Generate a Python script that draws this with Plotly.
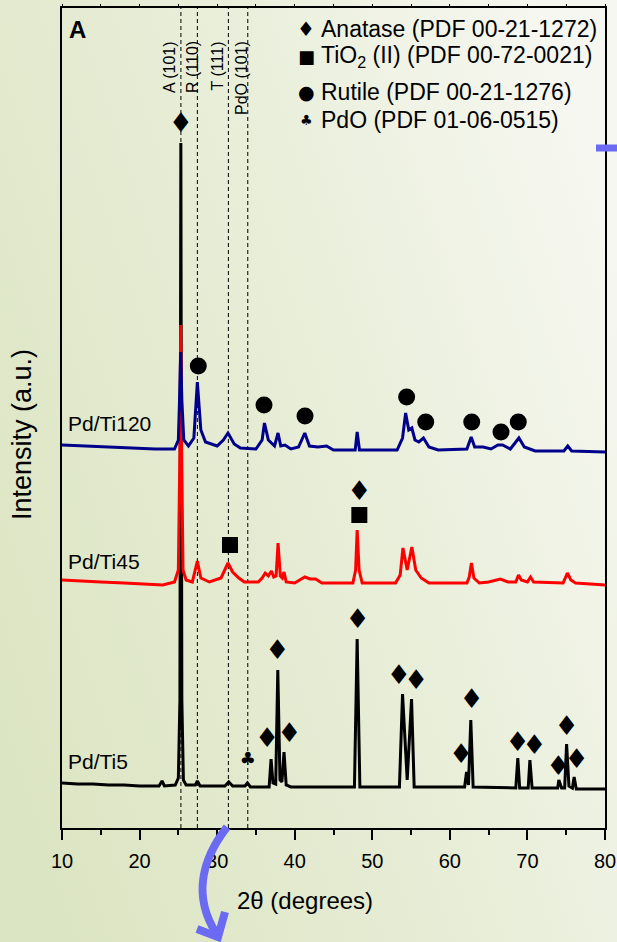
import plotly.graph_objects as go

# ---------------- data (2θ in degrees, intensity in a.u., curves already stacked) ----------------
ti5_x = [10.0, 12, 14, 16, 18, 20, 22.5, 22.9, 23.2, 24.6, 25.0, 25.2, 25.32, 25.45, 25.65, 26.0,
         27.2, 27.45, 27.8, 31.0, 31.5, 32.0, 33.6, 33.9, 34.3, 36.7, 36.95, 37.2, 37.55, 37.82,
         38.1, 38.35, 38.62, 38.9, 39.5, 47.7, 48.05, 48.4, 53.5, 53.9, 54.5, 55.06, 55.4, 56.5,
         61.9, 62.15, 62.4, 62.7, 63.0, 68.5, 68.76, 69.0, 70.1, 70.32, 70.6, 73.9, 74.05, 74.4,
         74.8, 75.05, 75.35, 75.8, 76.02, 76.3, 80]
ti5_y = [45, 44, 44, 43, 43, 42, 42, 47, 42, 43, 50, 128, 685, 128, 48, 43,
         43, 47, 42, 42, 46, 42, 42, 45, 41, 41, 69, 45, 44, 158,
         48, 46, 76, 43, 41, 41, 189, 41, 41, 134, 48, 129, 41, 41,
         41, 56, 43, 108, 41, 40, 70, 40, 40, 68, 40, 40, 48, 40,
         40, 84, 42, 40, 51, 39, 39]

ti45_x = [10, 12, 15, 18, 21, 23, 24.5, 25.0, 25.2, 25.3, 25.42, 25.6, 26.0, 26.8, 27.45, 27.9,
          29, 30.5, 31.4, 32.0, 32.8, 33.5, 35.3, 35.8, 36.2, 36.6, 37.0, 37.3, 37.6, 37.85,
          38.15, 38.4, 38.62, 38.9, 40.0, 41.3, 42.0, 42.7, 43.5, 47.5, 47.85, 48.05, 48.3, 48.7,
          53.0, 53.6, 53.95, 54.5, 55.1, 55.6, 56.3, 57.3, 62.2, 62.5, 62.78, 63.1, 63.8, 65,
          66.5, 67.5, 68.5, 68.85, 69.2, 70.0, 70.4, 70.8, 74.6, 75.15, 75.6, 76.2, 80]
ti45_y = [248, 247, 246, 245, 244, 243, 246, 258, 378, 503, 378, 258, 248, 246, 267, 250,
          246, 250, 265, 256, 250, 246, 246, 250, 255, 252, 257, 251, 252, 285,
          252, 250, 256, 246, 245, 251, 249, 249, 245, 245, 258, 298, 258, 245,
          245, 253, 280, 258, 281, 258, 250, 245, 245, 251, 265, 250, 245, 246,
          249, 246, 246, 253, 248, 246, 251, 246, 245, 255, 248, 245, 243]

ti120_x = [10, 13, 16, 19, 22, 24.5, 25.0, 25.15, 25.3, 25.45, 25.7, 26.3, 27.0, 27.45, 27.9,
           28.5, 30.0, 30.8, 31.4, 32.2, 33.0, 35.0, 35.8, 36.1, 36.6, 37.4, 37.85, 38.2, 38.75,
           39.5, 40.5, 41.3, 41.9, 43.0, 44.1, 45, 47.8, 48.05, 48.35, 53.2, 53.9, 54.3, 54.7,
           55.1, 55.5, 56.0, 56.6, 57.3, 58.5, 62.2, 62.75, 63.2, 64.3, 65.3, 66.2, 66.8, 67.8,
           68.9, 69.6, 71, 74.7, 75.2, 75.7, 80]
ti120_y = [383, 382, 381, 380, 379, 379, 388, 428, 476, 428, 388, 382, 390, 446, 398,
           386, 382, 388, 395, 384, 380, 379, 388, 405, 388, 382, 395, 382, 383,
           379, 381, 395, 382, 381, 382, 378, 378, 396, 378, 378, 390, 415, 398,
           400, 388, 386, 390, 381, 378, 379, 391, 381, 381, 379, 383, 383, 379,
           390, 381, 377, 377, 382, 377, 376]

anatase_x = [25.32, 36.43, 37.76, 39.3, 48.12, 53.44, 55.64, 61.44, 62.82, 68.75, 70.89, 73.98, 75.06, 76.35, 48.33]
anatase_y = [703, 88, 176, 93, 207, 151, 146, 72, 127, 84, 81, 60, 100, 67, 335]
tio2ii_x = [31.66, 48.33]
tio2ii_y = [283, 313]
rutile_x = [27.57, 36.04, 41.33, 54.43, 56.89, 62.82, 66.59, 68.82]
rutile_y = [462, 423, 412, 431, 406, 406, 396, 406]
pdo_x = [33.94]
pdo_y = [68]

ref_lines = [25.33, 27.45, 31.45, 33.95]
ref_labels = ["A (101)", "R (110)", "T (111)", "PdO (101)"]
ref_label_x = [23.8, 26.76, 30.1, 33.07]

sample_names = ["Pd/Ti120", "Pd/Ti45", "Pd/Ti5"]
sample_label_y = [405, 267, 67]

legend_text = ["Anatase (PDF 00-21-1272)", "TiO<sub>2</sub> (II) (PDF 00-72-0021)",
               "Rutile (PDF 00-21-1276)", "PdO (PDF 01-06-0515)"]
legend_sym = ["♦", "■", "●", "♣"]

# ---------------- layout geometry ----------------
W, H = 617, 942
ML, MR, MT, MB = 62, 12, 8, 114
PW, PH = W - ML - MR, H - MT - MB
def px(x):  # pixel -> paper x
    return (x - ML) / PW
def py(y):  # pixel -> paper y
    return (H - MB - y) / PH

FONT = "Liberation Sans, Arial, sans-serif"

fig = go.Figure()
fig.add_trace(go.Scatter(x=ti5_x, y=ti5_y, mode="lines", line=dict(color="#000000", width=3), hoverinfo="skip"))
fig.add_trace(go.Scatter(x=ti45_x, y=ti45_y, mode="lines", line=dict(color="#ff0000", width=3), hoverinfo="skip"))
fig.add_trace(go.Scatter(x=ti120_x, y=ti120_y, mode="lines", line=dict(color="#00008b", width=3), hoverinfo="skip"))

fig.add_trace(go.Scatter(x=anatase_x, y=anatase_y, mode="text", text=["♦"] * len(anatase_x),
                         textfont=dict(family="DejaVu Sans", size=27, color="black"), hoverinfo="skip"))
fig.add_trace(go.Scatter(x=tio2ii_x, y=tio2ii_y, mode="markers",
                         marker=dict(symbol="square", size=16, color="black"), hoverinfo="skip"))
fig.add_trace(go.Scatter(x=rutile_x, y=rutile_y, mode="markers",
                         marker=dict(symbol="circle", size=17, color="black"), hoverinfo="skip"))
fig.add_trace(go.Scatter(x=pdo_x, y=pdo_y, mode="text", text=["♣"] * len(pdo_x),
                         textfont=dict(family="DejaVu Sans", size=18, color="black"), hoverinfo="skip"))

shapes = []
for xv in ref_lines:
    shapes.append(dict(type="line", xref="x", yref="paper", x0=xv, x1=xv, y0=0, y1=1,
                       line=dict(color="black", width=1, dash="4px,3px"), layer="below"))

# decorative blue arrows
arrow_col = "#6a6af2"
shapes.append(dict(type="path", xref="paper", yref="paper",
                   path=f"M {px(227)},{py(827)} C {px(203)},{py(858)} {px(192)},{py(895)} {px(216)},{py(933)}",
                   line=dict(color=arrow_col, width=8)))
shapes.append(dict(type="path", xref="paper", yref="paper",
                   path=f"M {px(197)},{py(929)} L {px(218)},{py(937)} L {px(225)},{py(912)}",
                   line=dict(color=arrow_col, width=8)))
shapes.append(dict(type="line", xref="paper", yref="paper", x0=px(596), x1=px(617), y0=py(148), y1=py(148),
                   line=dict(color=arrow_col, width=7)))

annotations = []
for lab, lx in zip(ref_labels, ref_label_x):
    annotations.append(dict(x=lx, y=py(39), xref="x", yref="paper", text=lab, showarrow=False,
                            textangle=-90, xanchor="center", yanchor="top",
                            font=dict(family=FONT, size=16, color="black")))
for name, ly in zip(sample_names, sample_label_y):
    annotations.append(dict(x=10.55, y=ly, xref="x", yref="y", text=name, showarrow=False,
                            xanchor="left", yanchor="middle", font=dict(family=FONT, size=21, color="black")))

leg_y = [29, 56, 92, 120]
for t, s, ly, sz in zip(legend_text, legend_sym, leg_y, [20, 18, 19, 14]):
    annotations.append(dict(x=px(319), y=py(ly), xref="paper", yref="paper", text=t, showarrow=False,
                            xanchor="left", yanchor="middle", font=dict(family=FONT, size=23, color="black")))
    annotations.append(dict(x=px(306), y=py(ly), xref="paper", yref="paper", text=s, showarrow=False,
                            xanchor="center", yanchor="middle", font=dict(family="DejaVu Sans", size=sz, color="black")))

annotations.append(dict(x=px(67), y=py(29), xref="paper", yref="paper", text="<b>A</b>", showarrow=False,
                        xanchor="left", yanchor="middle", font=dict(family=FONT, size=24, color="black")))
annotations.append(dict(x=px(22), y=py(435), xref="paper", yref="paper", text="Intensity (a.u.)", showarrow=False,
                        textangle=-90, xanchor="center", yanchor="middle", font=dict(family=FONT, size=27, color="black")))
annotations.append(dict(x=px(305), y=py(900), xref="paper", yref="paper", text="2θ (degrees)", showarrow=False,
                        xanchor="center", yanchor="middle", font=dict(family=FONT, size=24, color="black")))

bg_svg = ("data:image/svg+xml;utf8,"
          "<svg xmlns='http://www.w3.org/2000/svg' width='617' height='942'>"
          "<defs><linearGradient id='g' x1='0' y1='0.75' x2='1' y2='0.25'>"
          "<stop offset='0' stop-color='%23dce5c3'/><stop offset='0.5' stop-color='%23e7edd6'/>"
          "<stop offset='1' stop-color='%23f6f7f0'/></linearGradient></defs>"
          "<rect width='617' height='942' fill='url(%23g)'/></svg>")

fig.update_layout(
    width=W, height=H, autosize=False, margin=dict(l=ML, r=MR, t=MT, b=MB, autoexpand=False),
    paper_bgcolor="#e8edd8", plot_bgcolor="rgba(0,0,0,0)", showlegend=False,
    shapes=shapes, annotations=annotations,
    images=[dict(source=bg_svg, xref="paper", yref="paper", x=px(0), y=py(0),
                 sizex=W / PW, sizey=H / PH, sizing="stretch", xanchor="left", yanchor="top", layer="below")],
    xaxis=dict(range=[10, 80], tick0=10, dtick=10, ticks="outside", ticklen=10, tickwidth=2,
               tickcolor="black", showline=True, linewidth=2, linecolor="black", mirror=True,
               showgrid=False, zeroline=False, tickfont=dict(family=FONT, size=20, color="black"),
               minor=dict(ticks="outside", ticklen=5, tickwidth=2, dtick=5, tickcolor="black"),
               ticklabelstandoff=4, automargin=False),
    xaxis2=dict(range=[10, 80], overlaying="x", side="top", tick0=10, dtick=5, ticks="outside",
                ticklen=3, tickwidth=1, tickcolor="black", showticklabels=False, showgrid=False,
                zeroline=False, showline=False, automargin=False),
    yaxis=dict(range=[0, PH], showticklabels=False, ticks="", showline=True, linewidth=2,
               linecolor="black", mirror=True, showgrid=False, zeroline=False, automargin=False),
)
fig.add_trace(go.Scatter(x=[10, 80], y=[None, None], xaxis="x2", mode="lines", hoverinfo="skip"))

fig.write_html("out.html",
               config={"responsive": False, "displayModeBar": False, "staticPlot": True},
               post_script="document.documentElement.style.overflow='hidden';"
                           "document.body.style.margin='0';document.body.style.overflow='hidden';")
